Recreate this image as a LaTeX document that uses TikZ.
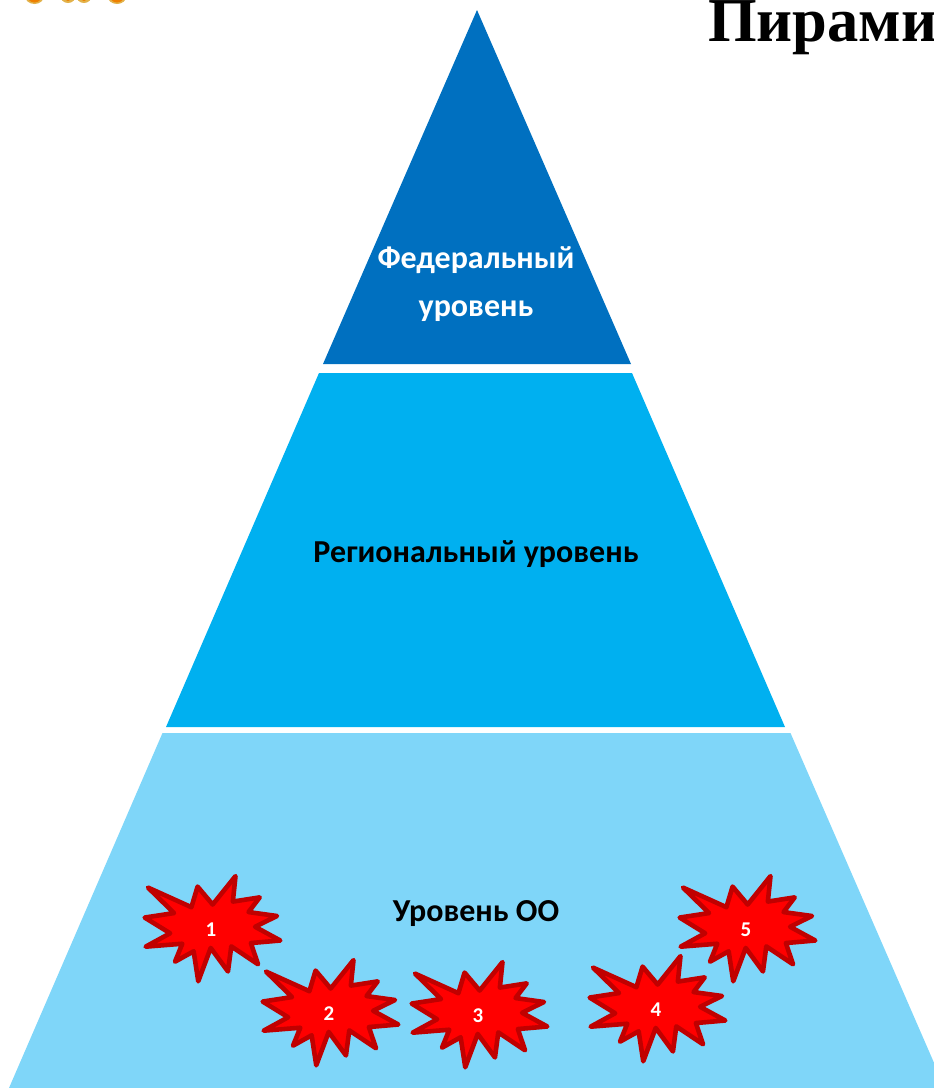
\documentclass[tikz,border=0pt]{standalone}
\usepackage{fontspec}
\setmainfont{Carlito}
\newfontfamily\titlefont{Liberation Serif}
\definecolor{fedblue}{HTML}{0070C0}
\definecolor{regblue}{HTML}{00B0F0}
\definecolor{oolblue}{HTML}{7FD6F9}
\definecolor{burstedge}{HTML}{C00000}
\definecolor{coinorange}{HTML}{EE7F00}
\definecolor{coinrim}{HTML}{E2B24A}
\tikzset{
  level/.style={draw=none},
  lvllabel/.style={font=\bfseries\fontsize{32}{48}\selectfont,align=center,inner sep=0pt},
  burst/.style={draw=burstedge,fill=red,line width=4.6pt,line join=round},
  burstnum/.style={font=\bfseries\fontsize{21}{23}\selectfont,text=white,inner sep=0pt},
  coin/.style={fill=coinrim,draw=none},
  coincore/.style={fill=coinorange,draw=none}
}
\newcommand{\burstpath}{(25,-55) -- (22.3,-29) -- (49.7,-33.3) -- (38.3,-18.3) -- (67.3,-14.3) -- (45,-3.3) -- (70.7,10.7) -- (40.7,13.3) -- (48,35) -- (20.7,16.7) -- (17.3,42.3) -- (-0.3,18.3) -- (-13,52.3) -- (-17.7,21.7) -- (-36.7,32.3) -- (-29.3,14) -- (-66.7,17) -- (-41.7,3.3) -- (-67.7,-12.7) -- (-37.7,-17.3) -- (-64.3,-43.3) -- (-20,-23.3) -- (-13.7,-44.3) -- (1.7,-26) -- cycle}
\newcommand{\placeburst}[4]{%
  \begin{scope}[shift={(#1,#2)},scale=0.98]\draw[burst] \burstpath;\end{scope}
  \node[burstnum] (#4) at (#1,#2) {#3};}
\begin{document}
\begin{tikzpicture}[x=1pt,y=-1pt]
\useasboundingbox (0,0) rectangle (934,1088);
\begin{scope}
\clip (0,0) rectangle (934,1088);
\fill[coin] (34.5,-4) ellipse (9.5 and 8);
\fill[coincore] (34.5,-4) ellipse (7 and 6.5);
\fill[coin] (68,-5) ellipse (8 and 8);
\fill[coincore] (68,-5) ellipse (5.5 and 6);
\fill[coin] (84,-5) ellipse (8 and 8);
\fill[coincore] (84,-5) ellipse (5.5 and 6);
\fill[coin] (117,-4) ellipse (9.5 and 8);
\fill[coincore] (117,-4) ellipse (7 and 6.5);
\fill[fedblue,level] (477,10) -- (631,364) -- (323,364) -- cycle;
\fill[regblue,level] (319,373) -- (632,373) -- (785,727) -- (166,727) -- cycle;
\fill[oolblue,level] (162.5,733) -- (790.5,733) -- (945,1088) -- (9,1088) -- cycle;
\node[anchor=base west,inner sep=0pt,font=\titlefont\bfseries\fontsize{62.5}{63}\selectfont] (title) at (708,41) {Пирами};
\end{scope}
\node[lvllabel,text=white] (federal) at (476,284) {Федеральный\\уровень};
\node[lvllabel] (regional) at (476,554) {Региональный уровень};
\node[lvllabel] (oo) at (476,914) {Уровень ОО};
\placeburst{211}{930}{1}{b1}
\placeburst{329}{1014}{2}{b2}
\placeburst{478}{1016}{3}{b3}
\placeburst{656}{1010}{4}{b4}
\placeburst{746}{930}{5}{b5}
\end{tikzpicture}
\end{document}
